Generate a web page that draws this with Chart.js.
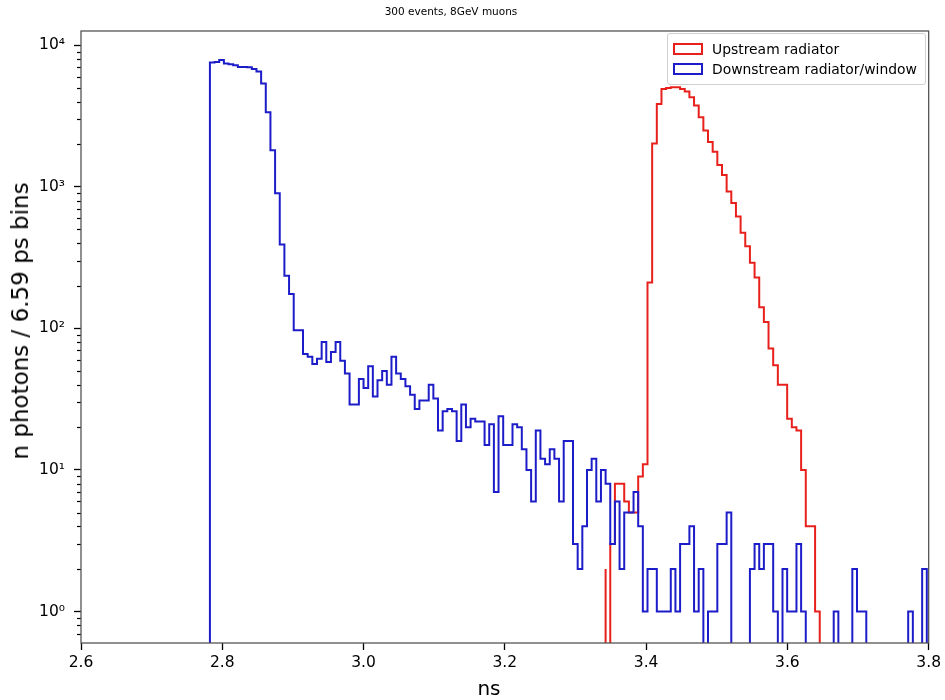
<!DOCTYPE html>
<html lang="en">
<head>
    <meta charset="UTF-8">
    <title>300 events, 8GeV muons</title>
    <script src="https://cdn.jsdelivr.net/npm/chart.js"></script>
    <style>
        body {
            margin: 0;
            background: #fff;
            font-family: "DejaVu Sans", sans-serif;
        }
        .wrap {
            position: relative;
            width: 945px;
            height: 700px;
        }
        .titulo {
            position: absolute;
            left: 451px;
            top: 5px;
            transform: translateX(-50%);
            font-size: 10.5px;
            white-space: nowrap;
        }
        .eje-x {
            position: absolute;
            left: 489px;
            top: 676px;
            transform: translateX(-50%);
            font-size: 20px;
        }
        .eje-y {
            position: absolute;
            left: 20px;
            top: 321px;
            transform: translate(-50%, -50%) rotate(-90deg);
            font-size: 23px;
            white-space: nowrap;
        }
        .leyenda {
            position: absolute;
            left: 667px;
            top: 33px;
            width: 257px;
            padding: 5px 0 5px 0;
            border: 1px solid #d0d0d0;
            border-radius: 3px;
            background: rgba(255,255,255,0.85);
            font-size: 13.9px;
            color: #000;
        }
        .fila {
            display: flex;
            align-items: center;
            height: 20px;
        }
        .patch {
            width: 26px;
            height: 8px;
            margin: 0 9px 0 5px;
            border: 2px solid;
        }
    </style>
</head>
<body>
<div class="wrap">
    <canvas id="chartFotones" width="945" height="700"></canvas>
    <div class="titulo">300 events, 8GeV muons</div>
    <div class="eje-x">ns</div>
    <div class="eje-y">n photons / 6.59 ps bins</div>
    <div class="leyenda">
        <div class="fila"><span class="patch" style="border-color:#e8201c"></span>Upstream radiator</div>
        <div class="fila"><span class="patch" style="border-color:#1c1cc8"></span>Downstream radiator/window</div>
    </div>
</div>

<script>
    // histogram binning (ns)
    const FIRST_EDGE = 2.7825;
    const BIN_WIDTH = 0.00659;

    // counts per bin, downstream starts at bin 0
    const downstreamCounts = [
        7350, 7550, 7620, 7870, 7420, 7350, 7230, 7030, 7030, 7000,
        6780, 6520, 5370, 3365, 1815, 900, 392, 235, 175, 97,
        97, 66, 63, 56, 61, 80, 58, 68, 80, 59,
        48, 29, 29, 44, 38, 54, 33, 43, 50, 40,
        63, 48, 44, 39, 34, 27, 31, 31, 40, 32,
        19, 26, 27, 26, 16, 29, 20, 23, 22, 22,
        15, 21, 7, 24, 15, 15, 21, 20, 14, 10,
        6, 19, 12, 11, 14, 12, 6, 16, 16, 3,
        2, 4, 10, 12, 6, 10, 8, 3, 6, 2,
        5, 5, 7, 4, 1, 2, 2, 1, 1, 1,
        2, 1, 3, 3, 4, 1, 2, 0, 1, 1,
        3, 3, 5, 0, 0, 0, 0, 2, 3, 2,
        3, 3, 1, 0, 2, 1, 1, 3, 1, 0,
        0, 0, 0, 0, 0, 1, 0, 0, 0, 2,
        1, 1, 0, 0, 0, 0, 0, 0, 0, 0,
        0, 1, 0, 0, 2
    ];

    // upstream is empty before this bin
    const upstreamFirstBin = 85;
    const upstreamCounts = [
        2, 0, 3, 8, 8, 6, 5, 5, 9, 11,
        211, 2020, 3850, 4910, 4990, 5040, 5040, 4910, 4720, 4290,
        3750, 3100, 2500, 2075, 1765, 1425, 1210, 925, 767, 618,
        473, 381, 291, 229, 141, 111, 72, 55, 40, 40,
        23, 20, 19, 10, 4, 4, 1
    ];

    const xTicks = [2.6, 2.8, 3.0, 3.2, 3.4, 3.6, 3.8];
    const yMajorTicks = [1, 10, 100, 1000, 10000];
    const yMajorLabels = ['10⁰', '10¹', '10²', '10³', '10⁴'];
    const yMinorMult = [2, 3, 4, 5, 6, 7, 8, 9];
    const yLowMinor = [0.7, 0.8, 0.9];

    const X_MIN = 2.6, X_MAX = 3.8;
    const Y_MIN = 0.645, Y_MAX = 12600;
    // empty bins: log axis can't show 0, send the line below the floor (clipped)
    const CERO = 0.3;

    const ROJO = '#e8201c';
    const AZUL = '#1c1cc8';

    Chart.defaults.font.family = '"DejaVu Sans", sans-serif';
    Chart.defaults.color = '#000';

    function pasos(primerBin, cuentas) {
        const pts = [{ x: FIRST_EDGE + primerBin * BIN_WIDTH, y: CERO }];
        cuentas.forEach((c, i) => {
            pts.push({ x: FIRST_EDGE + (primerBin + i) * BIN_WIDTH, y: c > 0 ? c : CERO });
        });
        pts.push({ x: FIRST_EDGE + (primerBin + cuentas.length) * BIN_WIDTH, y: CERO });
        return pts;
    }

    function ticksY() {
        const t = [];
        yLowMinor.forEach(v => t.push({ value: v, major: false }));
        yMajorTicks.forEach(m => {
            t.push({ value: m, major: true });
            yMinorMult.forEach(k => {
                if (m * k < Y_MAX) t.push({ value: m * k, major: false });
            });
        });
        return t;
    }

    // box around the axes + short minor ticks on the log axis
    const marco = {
        id: 'marco',
        afterDraw(chart) {
            const { ctx, chartArea: a } = chart;
            const y = chart.scales.y;
            ctx.save();
            ctx.strokeStyle = '#000';
            ctx.lineWidth = 1.2;
            y.ticks.forEach(t => {
                if (t.major) return;
                const py = Math.round(y.getPixelForValue(t.value)) + 0.5;
                ctx.beginPath();
                ctx.moveTo(a.left - 4, py);
                ctx.lineTo(a.left, py);
                ctx.stroke();
            });
            ctx.strokeStyle = '#555';
            ctx.lineWidth = 1.3;
            ctx.strokeRect(a.left, a.top, a.right - a.left, a.bottom - a.top);
            ctx.restore();
        }
    };

    const ctx = document.getElementById('chartFotones').getContext('2d');
    new Chart(ctx, {
        type: 'line',
        data: {
            datasets: [
                {
                    label: 'Upstream radiator',
                    data: pasos(upstreamFirstBin, upstreamCounts),
                    borderColor: ROJO,
                    borderWidth: 2,
                    pointRadius: 0,
                    stepped: 'after',
                    fill: false,
                    order: 2
                },
                {
                    label: 'Downstream radiator/window',
                    data: pasos(0, downstreamCounts),
                    borderColor: AZUL,
                    borderWidth: 2,
                    pointRadius: 0,
                    stepped: 'after',
                    fill: false,
                    order: 1
                }
            ]
        },
        options: {
            responsive: false,
            animation: false,
            layout: { padding: { left: 0, right: 16, top: 31, bottom: 0 } },
            plugins: {
                legend: { display: false },
                tooltip: { enabled: false },
                title: { display: false }
            },
            scales: {
                x: {
                    type: 'linear',
                    min: X_MIN,
                    max: X_MAX,
                    afterBuildTicks: s => { s.ticks = xTicks.map(v => ({ value: v })); },
                    ticks: {
                        callback: v => v.toFixed(1),
                        font: { size: 15.5 },
                        padding: 4,
                        maxRotation: 0
                    },
                    grid: { drawOnChartArea: false, tickLength: 7, tickColor: '#000', tickWidth: 1.3 },
                    border: { display: false },
                    afterFit: s => { s.height = 57; }
                },
                y: {
                    type: 'logarithmic',
                    min: Y_MIN,
                    max: Y_MAX,
                    afterBuildTicks: s => { s.ticks = ticksY(); },
                    ticks: {
                        autoSkip: false,
                        font: { size: 15.5 },
                        padding: 9,
                        callback: v => {
                            const i = yMajorTicks.indexOf(v);
                            return i >= 0 ? yMajorLabels[i] : '';
                        }
                    },
                    grid: {
                        drawOnChartArea: false,
                        tickLength: 7,
                        tickWidth: 1.3,
                        tickColor: c => (c.tick && c.tick.major) ? '#000' : 'rgba(0,0,0,0)'
                    },
                    border: { display: false },
                    afterFit: s => { s.width = 81; }
                }
            }
        },
        plugins: [marco]
    });
</script>
</body>
</html>
